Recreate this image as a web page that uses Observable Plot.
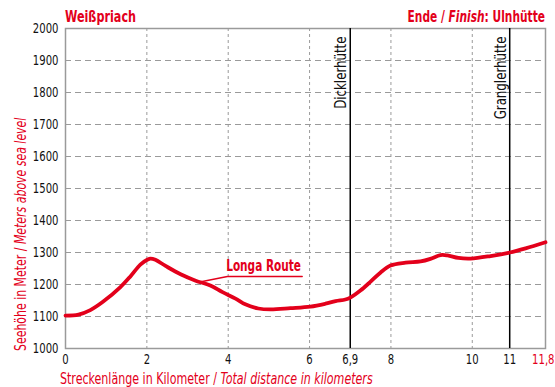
<!DOCTYPE html>
<html>
<head>
<meta charset="utf-8">
<script src="https://cdn.jsdelivr.net/npm/d3@7"></script>
<script src="https://cdn.jsdelivr.net/npm/@observablehq/plot@0.6"></script>
<style>
  html, body { margin: 0; padding: 0; background: #fff; }
  svg { display: block; }
</style>
</head>
<body>
<div id="chart"></div>
<script>
// ---- data ----
const distanceKm = [0, 0.32, 0.61, 0.92, 1.35, 1.6, 1.84, 2.02, 2.09, 2.21, 2.46, 2.83, 3.2, 3.56, 3.86, 4.18, 4.42, 4.74, 5.04, 5.53, 6.02, 6.39, 6.64, 6.88, 7.0, 7.25, 7.5, 7.74, 7.99, 8.36, 8.73, 8.97, 9.22, 9.39, 9.66, 9.96, 10.45, 10.92, 11.31, 11.8];
const elevationM = [1103, 1106, 1120, 1146, 1192, 1226, 1262, 1278, 1281, 1277, 1258, 1232, 1212, 1197, 1176, 1156, 1138, 1125, 1122, 1126, 1131, 1140, 1148, 1153, 1159, 1181, 1209, 1237, 1259, 1268, 1272, 1280, 1292, 1291, 1283, 1281, 1289, 1300, 1313, 1332];

const hutNames = ["Dicklerhütte", "Granglerhütte"];
const hutKm = [7.0, 10.92];

const yTicks = [1000, 1100, 1200, 1300, 1400, 1500, 1600, 1700, 1800, 1900, 2000];
const yGridLines = [1100, 1200, 1300, 1400, 1500, 1600, 1700, 1800, 1900];
const xGridLines = [2, 4, 6, 8, 10];
const xTickPos = [0, 2, 4, 6, 7.0, 8, 10, 10.92];
const xTickLabels = ["0", "2", "4", "6", "6,9", "8", "10", "11"];
const xEndPos = [11.8];
const xEndLabels = ["11,8"];

const routeName = "Longa Route";
const routeLabelKm = [3.95];
const routeLabelElev = [1242];
const leaderKm = [3.27, 3.98, 5.82];
const leaderElev = [1207, 1225, 1225];

const startName = "Weißpriach";
const yLabelParts = [["Seehöhe in Meter / ", "normal"], ["Meters above sea level", "italic"]];
const xLabelParts = [["Streckenlänge in Kilometer / ", "normal"], ["Total distance in kilometers", "italic"]];
const endParts = [["Ende / ", "normal"], ["Finish", "italic"], [": Ulnhütte", "normal"]];

// ---- build ----
const RED = "#e3001b";
const FONT = "'DejaVu Sans Condensed', 'Liberation Sans Narrow', sans-serif";
const profile = distanceKm.map((d, i) => ({km: d, elev: elevationM[i]}));
const huts = hutNames.map((n, i) => ({name: n, km: hutKm[i]}));
const leader = leaderKm.map((d, i) => ({km: d, elev: leaderElev[i]}));

const chart = Plot.plot({
  width: 555,
  height: 387,
  marginLeft: 65,
  marginRight: 10,
  marginTop: 28,
  marginBottom: 39,
  style: {fontFamily: FONT, fontSize: "14px", color: "#1a1a1a", background: "#fff"},
  x: {domain: [0, 11.8]},
  y: {domain: [1000, 2000]},
  marks: [
    Plot.ruleY(yGridLines, {stroke: "#9a9a9a", strokeWidth: 1, strokeDasharray: "6,4"}),
    Plot.ruleX(xGridLines, {stroke: "#9a9a9a", strokeWidth: 1, strokeDasharray: "3,3"}),
    Plot.frame({stroke: "#9a9a9a", strokeWidth: 1.5}),
    Plot.ruleX(huts, {x: "km", stroke: "#000", strokeWidth: 1.5}),
    Plot.text(huts, {x: "km", y: 2000, text: "name", rotate: -90, textAnchor: "end", lineAnchor: "bottom", dx: -4, dy: 8, fill: "#111", fontSize: 16}),
    Plot.line(profile, {x: "km", y: "elev", stroke: RED, strokeWidth: 3.8, curve: "catmull-rom"}),
    Plot.line(leader, {x: "km", y: "elev", stroke: RED, strokeWidth: 1.3}),
    Plot.text(routeLabelKm, {x: d => d, y: (d, i) => routeLabelElev[i], text: () => routeName, textAnchor: "start", lineAnchor: "bottom", fill: RED, fontWeight: "bold", fontSize: 15}),
    Plot.axisY(yTicks, {tickSize: 0, tickPadding: 7, tickFormat: d => String(d), label: null, fill: "#111", fontSize: 14}),
    Plot.axisX(xTickPos, {tickSize: 0, tickPadding: 6, tickFormat: (d, i) => xTickLabels[i], label: null, fill: "#111", fontSize: 14}),
    Plot.axisX(xEndPos, {tickSize: 0, tickPadding: 6, textAnchor: "end", dx: 9, tickFormat: (d, i) => xEndLabels[i], label: null, fill: RED, fontSize: 14})
  ]
});

document.getElementById("chart").appendChild(chart);

// horizontally condense text (narrow typeface of the reference) via textLength
d3.select(chart).selectAll("text").each(function () {
  const isRoute = this.textContent === routeName;
  const isHut = hutNames.includes(this.textContent);
  const s = isRoute ? 0.78 : isHut ? 0.82 : 0.8;
  const len = this.getComputedTextLength();
  if (len > 0) {
    this.setAttribute("lengthAdjust", "spacingAndGlyphs");
    this.setAttribute("textLength", (len * s).toFixed(2));
  }
});

const svg = d3.select(chart);
function addRich(parts, x, y, rot, s, attrs) {
  const t = svg.append("text")
    .attr("font-family", FONT)
    .attr("fill", RED)
    .attr("transform", `translate(${x},${y}) rotate(${rot}) scale(${s},1)`);
  for (const [k, v] of Object.entries(attrs)) t.attr(k, v);
  parts.forEach(([str, style]) => t.append("tspan").attr("font-style", style).text(str));
  return t;
}
addRich([[startName, "normal"]], 65, 22, 0, 0.78, {"font-size": 16, "font-weight": "bold", "text-anchor": "start"});
addRich(endParts, 545, 22, 0, 0.74, {"font-size": 16, "font-weight": "bold", "text-anchor": "end"});
addRich(xLabelParts, 60, 384, 0, 0.77, {"font-size": 16, "text-anchor": "start"});
addRich(yLabelParts, 26, 351, -90, 0.76, {"font-size": 16, "text-anchor": "start"});
</script>
</body>
</html>
